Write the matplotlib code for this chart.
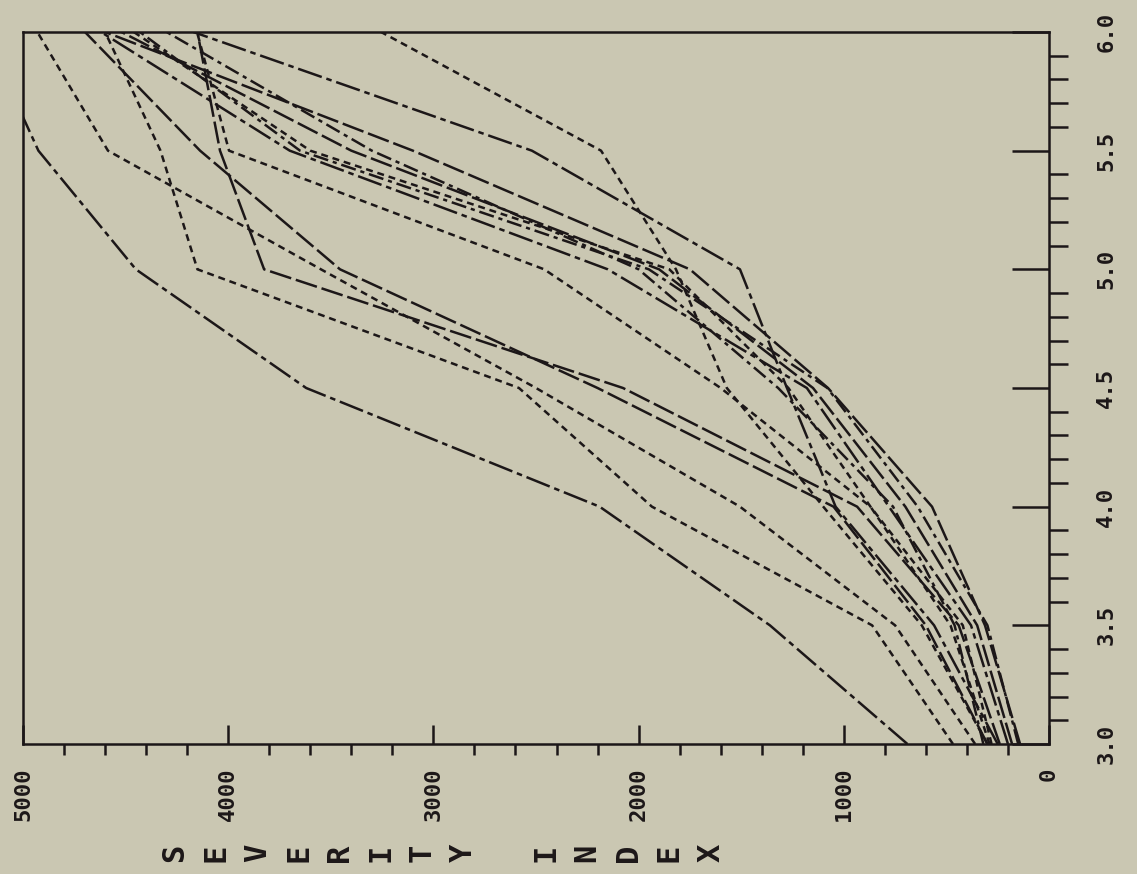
import numpy as np
import matplotlib
matplotlib.use('Agg')
import matplotlib.pyplot as plt
from matplotlib.ticker import MultipleLocator, FormatStrFormatter

plt.rcParams['lines.scale_dashes'] = False
plt.rcParams['font.family'] = 'DejaVu Sans Mono'

# peak acceleration steps (drawn on the vertical axis) and severity index per run
accel = [3.0, 3.5, 4.0, 4.5, 5.0, 5.5, 6.0]

run_01 = [690, 1360, 2190, 3620, 4450, 4925, 5190]
run_02 = [468, 862, 1935, 2583, 4150, 4330, 4600]
run_03 = [360, 750, 1506, 2500, 3548, 4586, 4930]
run_04 = [240, 440, 935, 2076, 3825, 4040, 4150]
run_05 = [300, 600, 1050, 2200, 3455, 4137, 4698]
run_06 = [200, 380, 780, 1180, 2150, 3700, 4620]
run_07 = [150, 300, 640, 1080, 1950, 3650, 4430]
run_08 = [280, 420, 870, 1270, 1850, 3600, 4460]
run_09 = [300, 620, 1100, 1570, 1818, 2183, 3255]
run_10 = [250, 560, 1040, 1277, 1506, 2520, 4170]
run_11 = [141, 312, 570, 1077, 1750, 3100, 4600]
run_12 = [290, 480, 870, 1600, 2460, 3996, 4152]
run_13 = [180, 350, 700, 1150, 1900, 3400, 4520]
run_14 = [320, 460, 760, 1320, 2000, 3300, 4300]

runs = [run_01, run_02, run_03, run_04, run_05, run_06, run_07,
        run_08, run_09, run_10, run_11, run_12, run_13, run_14]

short_dash = (0, (5, 3.5))
long_dash = (0, (16, 3.5))
dash_dot = (0, (11, 3.5, 3, 3.5))
long_dash_dot = (0, (18, 3.5, 4, 3.5))
styles = [long_dash_dot, short_dash, short_dash, long_dash, long_dash,
          long_dash_dot, dash_dot, short_dash, short_dash, long_dash_dot,
          long_dash, short_dash, long_dash, dash_dot]

paper = '#cac7b2'
ink = '#1c1718'

W, H = 1137, 874
fig = plt.figure(figsize=(W / 100, H / 100), dpi=100, facecolor=paper)
ax = fig.add_axes([23 / W, 1 - 744 / H, (1049 - 23) / W, (744 - 32) / H])
ax.set_facecolor(paper)

for sev, ls in zip(runs, styles):
    ax.plot(sev, accel, color=ink, lw=1.8, ls=ls)

ax.set_xlim(5000, 0)
ax.set_ylim(3.0, 6.0)

for s in ax.spines.values():
    s.set_color(ink)
    s.set_linewidth(1.8)

ax.xaxis.set_major_locator(MultipleLocator(1000))
ax.xaxis.set_minor_locator(MultipleLocator(200))
ax.xaxis.set_major_formatter(FormatStrFormatter('%d'))
ax.yaxis.tick_right()
ax.yaxis.set_major_locator(MultipleLocator(0.5))
ax.yaxis.set_minor_locator(MultipleLocator(0.1))
ax.yaxis.set_major_formatter(FormatStrFormatter('%.1f'))

ax.tick_params(axis='x', which='major', direction='in', length=13.5, width=1.8,
               color=ink, labelcolor=ink, labelsize=16, labelrotation=90, pad=17,
               top=False)
ax.tick_params(axis='x', which='minor', direction='out', length=8, width=1.8,
               color=ink, top=False)
ax.tick_params(axis='y', which='major', direction='in', length=27, width=1.8,
               color=ink, labelcolor=ink, labelsize=16, labelrotation=90, pad=34,
               left=False, right=True, labelleft=False, labelright=True)
ax.tick_params(axis='y', which='minor', direction='out', length=14, width=1.8,
               color=ink, left=False, right=True)
plt.setp(ax.get_yticklabels(), va='center', fontweight='bold')
plt.setp(ax.get_xticklabels(), fontweight='bold')

# axis title: one letter per slot, each turned on its side
title = 'SEVERITY INDEX'
for k, ch in enumerate(title):
    if ch == ' ':
        continue
    xp = 175 + 41.2 * k
    fig.text(xp / W, 1 - 853 / H, ch, rotation=90, ha='center', va='center',
             fontsize=22, fontweight='bold', color=ink)

fig.savefig('out.png', dpi=100, facecolor=paper)
